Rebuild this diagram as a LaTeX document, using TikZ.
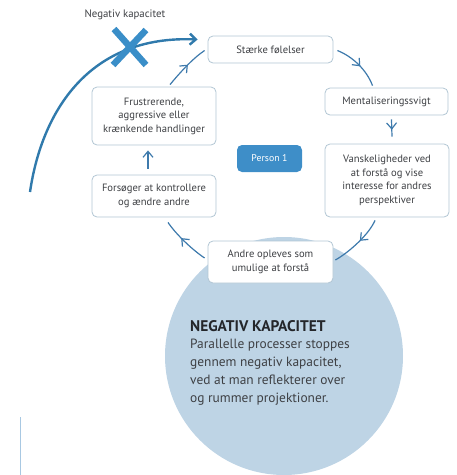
\documentclass[tikz,border=0pt]{standalone}
\usepackage{fontspec}
\setmainfont{PT Sans}
\usetikzlibrary{arrows.meta,decorations.markings}

\definecolor{boxline}{RGB}{178,198,212}
\definecolor{boxtext}{RGB}{62,64,68}
\definecolor{flowblue}{RGB}{62,122,172}
\definecolor{personblue}{RGB}{62,142,200}
\definecolor{circlefill}{RGB}{190,212,229}
\definecolor{crossblue}{RGB}{58,142,200}
\definecolor{arcblue}{RGB}{48,122,172}
\definecolor{headtext}{RGB}{36,38,42}
\definecolor{edgeline}{RGB}{168,200,226}

\tikzset{
  box/.style={draw=boxline, line width=0.8pt, fill=white, rounded corners=5pt,
    align=center, text=boxtext, inner sep=2pt,
    font=\fontsize{10.6}{13.5}\selectfont},
  personbox/.style={fill=personblue, rounded corners=5pt, text=white,
    minimum width=65pt, minimum height=27pt,
    font=\fontsize{9.8}{12}\selectfont},
  flow/.style={draw=flowblue, line width=1.2pt},
  barbtip/.style={-{Straight Barb[length=6pt,width=10pt]}},
  midbarb/.style={postaction={decorate},
    decoration={markings,
      mark=at position #1 with {\arrow{Straight Barb[length=6pt,width=10pt]}}}},
}

\begin{document}
\begin{tikzpicture}[x=1pt,y=-1pt]
  \useasboundingbox (0,0) rectangle (457,475);

  % large circle with the note on negative capacity
  \node[circle, fill=circlefill, minimum size=238pt, inner sep=0pt] (c) at (284,356) {};
  \node[anchor=north west, align=left, inner sep=0pt, text=boxtext,
        font=\fontsize{13.4}{17.7}\selectfont] (ctext) at (190,320)
    {{\color{headtext}\fontsize{15.4}{17.7}\selectfont\bfseries NEGATIV KAPACITET}\\
     Parallelle processer stoppes\\
     gennem negativ kapacitet,\\
     ved at man reflekterer over\\
     og rummer projektioner.};

  % cycle boxes
  \node[box, minimum width=125pt, minimum height=27pt] (s)  at (270.5,49.5) {Stærke følelser};
  \node[box, minimum width=123pt, minimum height=27pt] (m)  at (386.5,101.5) {Mentaliseringssvigt};
  \node[box, minimum width=124pt, minimum height=73pt] (v)  at (387,180.5)
    {Vanskeligheder ved\\at forstå og vise\\interesse for andres\\perspektiver};
  \node[box, minimum width=125pt, minimum height=42pt] (a)  at (270.5,262) {Andre opleves som\\umulige at forstå};
  \node[box, minimum width=124pt, minimum height=42pt] (f2) at (154,196) {Forsøger at kontrollere\\og ændre andre};
  \node[box, minimum width=124pt, minimum height=58pt] (f1) at (154,116)
    {Frustrerende,\\aggressive eller\\krænkende handlinger};
  \node[personbox] (p) at (269.5,158.5) {Person 1};

  % cycle connectors
  \draw[flow, midbarb=0.55] ([xshift=4pt,yshift=-1pt]s.east)
    .. controls +(15,6) and +(-6,-16) .. ([xshift=-14pt,yshift=2pt]m.north);
  \draw[flow, midbarb=0.6] ([xshift=5pt,yshift=-4pt]m.south) -- ([xshift=5pt,yshift=7pt]v.north);
  \draw[flow, midbarb=0.45] ([xshift=-12pt,yshift=-3pt]v.south)
    .. controls +(-6,14) and +(14,-8) .. ([xshift=2pt,yshift=2pt]a.east);
  \draw[flow, midbarb=0.6] ([xshift=-3pt,yshift=4pt]a.west)
    .. controls +(-12,-8) and +(8,12) .. ([xshift=14pt,yshift=-5pt]f2.south);
  \draw[flow, barbtip] ([xshift=-6pt,yshift=6pt]f2.north) -- ([xshift=-6pt,yshift=-5pt]f1.south);
  \draw[flow, midbarb=0.55] ([xshift=16pt,yshift=2pt]f1.north)
    .. controls +(10,-12) and +(-12,8) .. ([xshift=-3pt,yshift=-1pt]s.west);

  % the crossed-out shortcut
  \coordinate (arcstart) at (30,192);
  \draw[draw=arcblue, line width=2.4pt, -{Straight Barb[length=6pt,width=11pt]}]
    (arcstart) .. controls (42,110) and (90,35) .. ([xshift=-10pt,yshift=10pt]s.west);
  \coordinate (x) at (130,47);
  \draw[draw=crossblue, line width=6.5pt]
    ([xshift=-16pt,yshift=18pt]x) -- ([xshift=16pt,yshift=-18pt]x)
    ([xshift=16pt,yshift=17pt]x) -- ([xshift=-17pt,yshift=-18pt]x);
  \node[text=boxtext, font=\fontsize{10.8}{12}\selectfont] (xlabel) at (125,15) {Negativ kapacitet};

  % thin rule at the lower left
  \coordinate (r1) at (20,417);
  \coordinate (r2) at (20,475);
  \draw[draw=edgeline, line width=1pt] (r1) -- (r2);
\end{tikzpicture}
\end{document}
